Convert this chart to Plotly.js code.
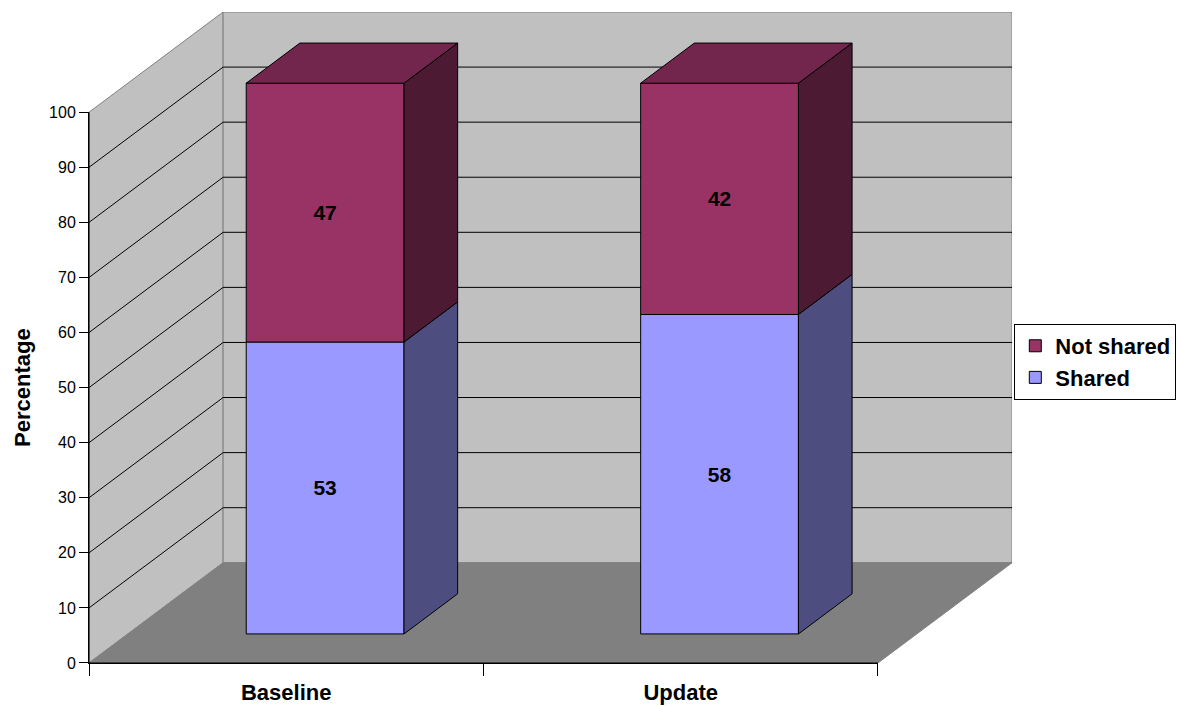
<!DOCTYPE html>
<html>
<head>
<meta charset="utf-8">
<script src="https://cdn.plot.ly/plotly-3.0.1.min.js"></script>
<style>
  html, body { margin: 0; padding: 0; background: #ffffff; }
  #chart { width: 1177px; height: 706px; }
</style>
</head>
<body>
<div id="chart"></div>
<script>
// Stacked percentages per survey round
const categories = ['Baseline', 'Update'];
const seriesNames = ['Shared', 'Not shared'];
const sharedValues = [53, 58];
const notSharedValues = [47, 42];
const yTickValues = [0, 10, 20, 30, 40, 50, 60, 70, 80, 90, 100];

// Face colours: front, side (shaded) and top of each series
const frontColors = ['#9999ff', '#993366'];
const sideColors = ['#4d4d80', '#4d1a33'];
const topColors = ['#73739f', '#73264d'];

// Oblique projection of the box: full depth expressed in axis units
const DEPTH_X = 0.34;   // category units
const DEPTH_Y = 18.2;   // percentage units
const BAR_FRONT = 0.29; // bar front plane, as a fraction of depth
const BAR_BACK = 0.69;  // bar back plane
const BAR_WIDTH = 0.4;
const Y_MAX = 100;
const N = categories.length;

const FONT = 'Liberation Sans, Arial, Helvetica, sans-serif';

function proj(x, y, d) {
  return [x + d * DEPTH_X, y + d * DEPTH_Y];
}

function polyTrace(points, fill, lineColor, axes) {
  const xs = [], ys = [];
  points.forEach(p => {
    if (p === null) { xs.push(null); ys.push(null); }
    else { xs.push(p[0]); ys.push(p[1]); }
  });
  return {
    type: 'scatter', mode: 'lines', x: xs, y: ys,
    fill: fill ? 'toself' : 'none', fillcolor: fill || undefined,
    line: { color: lineColor, width: 1 },
    hoverinfo: 'skip', showlegend: false,
    xaxis: axes[0], yaxis: axes[1]
  };
}

const traces = [];
const wallAxes = ['x', 'y'];
const barAxes = ['x2', 'y2'];
const frontAxes = ['x3', 'y3'];

// Walls and floor
traces.push(polyTrace([proj(0, 0, 0), proj(0, 0, 1), proj(0, Y_MAX, 1), proj(0, Y_MAX, 0), proj(0, 0, 0)], '#c0c0c0', '#808080', wallAxes));
traces.push(polyTrace([proj(0, 0, 1), proj(N, 0, 1), proj(N, Y_MAX, 1), proj(0, Y_MAX, 1), proj(0, 0, 1)], '#c0c0c0', '#808080', wallAxes));
traces.push(polyTrace([proj(0, 0, 0), proj(N, 0, 0), proj(N, 0, 1), proj(0, 0, 1), proj(0, 0, 0)], '#808080', '#808080', wallAxes));

// Gridlines running along the side wall and across the back wall
const gridPoints = [];
yTickValues.filter(v => v > 0 && v < Y_MAX).forEach(v => {
  gridPoints.push(proj(0, v, 0), proj(0, v, 1), proj(N, v, 1), null);
});
traces.push(polyTrace(gridPoints, null, '#000000', wallAxes));

// Front edges of the box, on the value/category axes
traces.push(polyTrace([[0, Y_MAX], [0, 0], [N, 0]], null, '#000000', frontAxes));

// Bars: front faces as bar traces, side and top faces as polygons
const seriesValues = [sharedValues, notSharedValues];
const cumulative = categories.map(() => 0);
const faceTraces = [];
seriesValues.forEach((vals, s) => {
  const bases = vals.map((v, i) => cumulative[i] + BAR_FRONT * DEPTH_Y);
  traces.push({
    type: 'bar', name: seriesNames[s],
    x: categories.map((c, i) => i + 0.5 + BAR_FRONT * DEPTH_X),
    y: vals, base: bases, width: BAR_WIDTH,
    marker: { color: frontColors[s], line: { color: '#000000', width: 1 } },
    text: vals.map(v => String(v)), textposition: 'inside', insidetextanchor: 'middle',
    textangle: 0, constraintext: 'none',
    textfont: { family: FONT, size: 21, color: '#000000', weight: 'bold' },
    hoverinfo: 'name+y',
    xaxis: 'x2', yaxis: 'y2'
  });
  const sidePoints = [];
  vals.forEach((v, i) => {
    const xr = i + 0.5 + BAR_WIDTH / 2;
    const b = cumulative[i], t = cumulative[i] + v;
    sidePoints.push(proj(xr, b, BAR_FRONT), proj(xr, b, BAR_BACK), proj(xr, t, BAR_BACK), proj(xr, t, BAR_FRONT), proj(xr, b, BAR_FRONT), null);
  });
  faceTraces.push(polyTrace(sidePoints, sideColors[s], '#000000', barAxes));
  vals.forEach((v, i) => { cumulative[i] += v; });
});
// Lid on the top series only
const lidPoints = [];
cumulative.forEach((t, i) => {
  const xl = i + 0.5 - BAR_WIDTH / 2, xr = i + 0.5 + BAR_WIDTH / 2;
  lidPoints.push(proj(xl, t, BAR_FRONT), proj(xr, t, BAR_FRONT), proj(xr, t, BAR_BACK), proj(xl, t, BAR_BACK), proj(xl, t, BAR_FRONT), null);
});
faceTraces.push(polyTrace(lidPoints, topColors[seriesValues.length - 1], '#000000', barAxes));
faceTraces.forEach(t => traces.push(t));

const fullX = [0, N + DEPTH_X];
const fullY = [0, Y_MAX + DEPTH_Y];

const layout = {
  width: 1177, height: 706,
  margin: { l: 89, r: 165, t: 12, b: 43, pad: 0, autoexpand: false },
  paper_bgcolor: '#ffffff', plot_bgcolor: 'rgba(0,0,0,0)',
  font: { family: FONT, size: 16, color: '#000000' },
  barmode: 'overlay',
  showlegend: true,
  legend: {
    x: 1.0025, xanchor: 'left', y: 0.4624, yanchor: 'middle',
    bgcolor: '#ffffff', bordercolor: '#000000', borderwidth: 1,
    traceorder: 'reversed',
    font: { family: FONT, size: 22, color: '#000000', weight: 'bold' }
  },
  xaxis: {
    domain: [0, 1], range: fullX, anchor: 'y',
    tickmode: 'array', tickvals: categories.map((c, i) => i + 0.5), ticktext: categories,
    ticks: 'outside', ticklen: 10, tickcolor: 'rgba(0,0,0,0)',
    tickfont: { family: FONT, size: 22, color: '#000000', weight: 'bold' },
    showgrid: false, zeroline: false, showline: false, fixedrange: true
  },
  yaxis: {
    domain: [0, 1], range: fullY, anchor: 'x', visible: false, fixedrange: true
  },
  xaxis2: { overlaying: 'x', range: fullX, anchor: 'y2', visible: false, fixedrange: true },
  yaxis2: { overlaying: 'y', range: fullY, anchor: 'x2', visible: false, fixedrange: true },
  xaxis3: {
    domain: [0, N / (N + DEPTH_X)], range: [0, N], anchor: 'y3',
    tickmode: 'array', tickvals: categories.map((c, i) => i).concat([N]),
    ticks: 'outside', ticklen: 12, tickcolor: '#000000', tickwidth: 1,
    showticklabels: false, showgrid: false, zeroline: false,
    showline: true, linecolor: '#000000', linewidth: 1, fixedrange: true
  },
  yaxis3: {
    domain: [0, Y_MAX / (Y_MAX + DEPTH_Y)], range: [0, Y_MAX], anchor: 'x3',
    tickmode: 'array', tickvals: yTickValues,
    ticks: 'outside', ticklen: 9, tickcolor: '#000000', tickwidth: 1,
    tickfont: { family: FONT, size: 16, color: '#000000' },
    showgrid: false, zeroline: false,
    showline: true, linecolor: '#000000', linewidth: 1, fixedrange: true,
    title: { text: 'Percentage', standoff: 12, font: { family: FONT, size: 22, color: '#000000', weight: 'bold' } }
  }
};

Plotly.newPlot('chart', traces, layout, { displayModeBar: false, staticPlot: true });
</script>
</body>
</html>
